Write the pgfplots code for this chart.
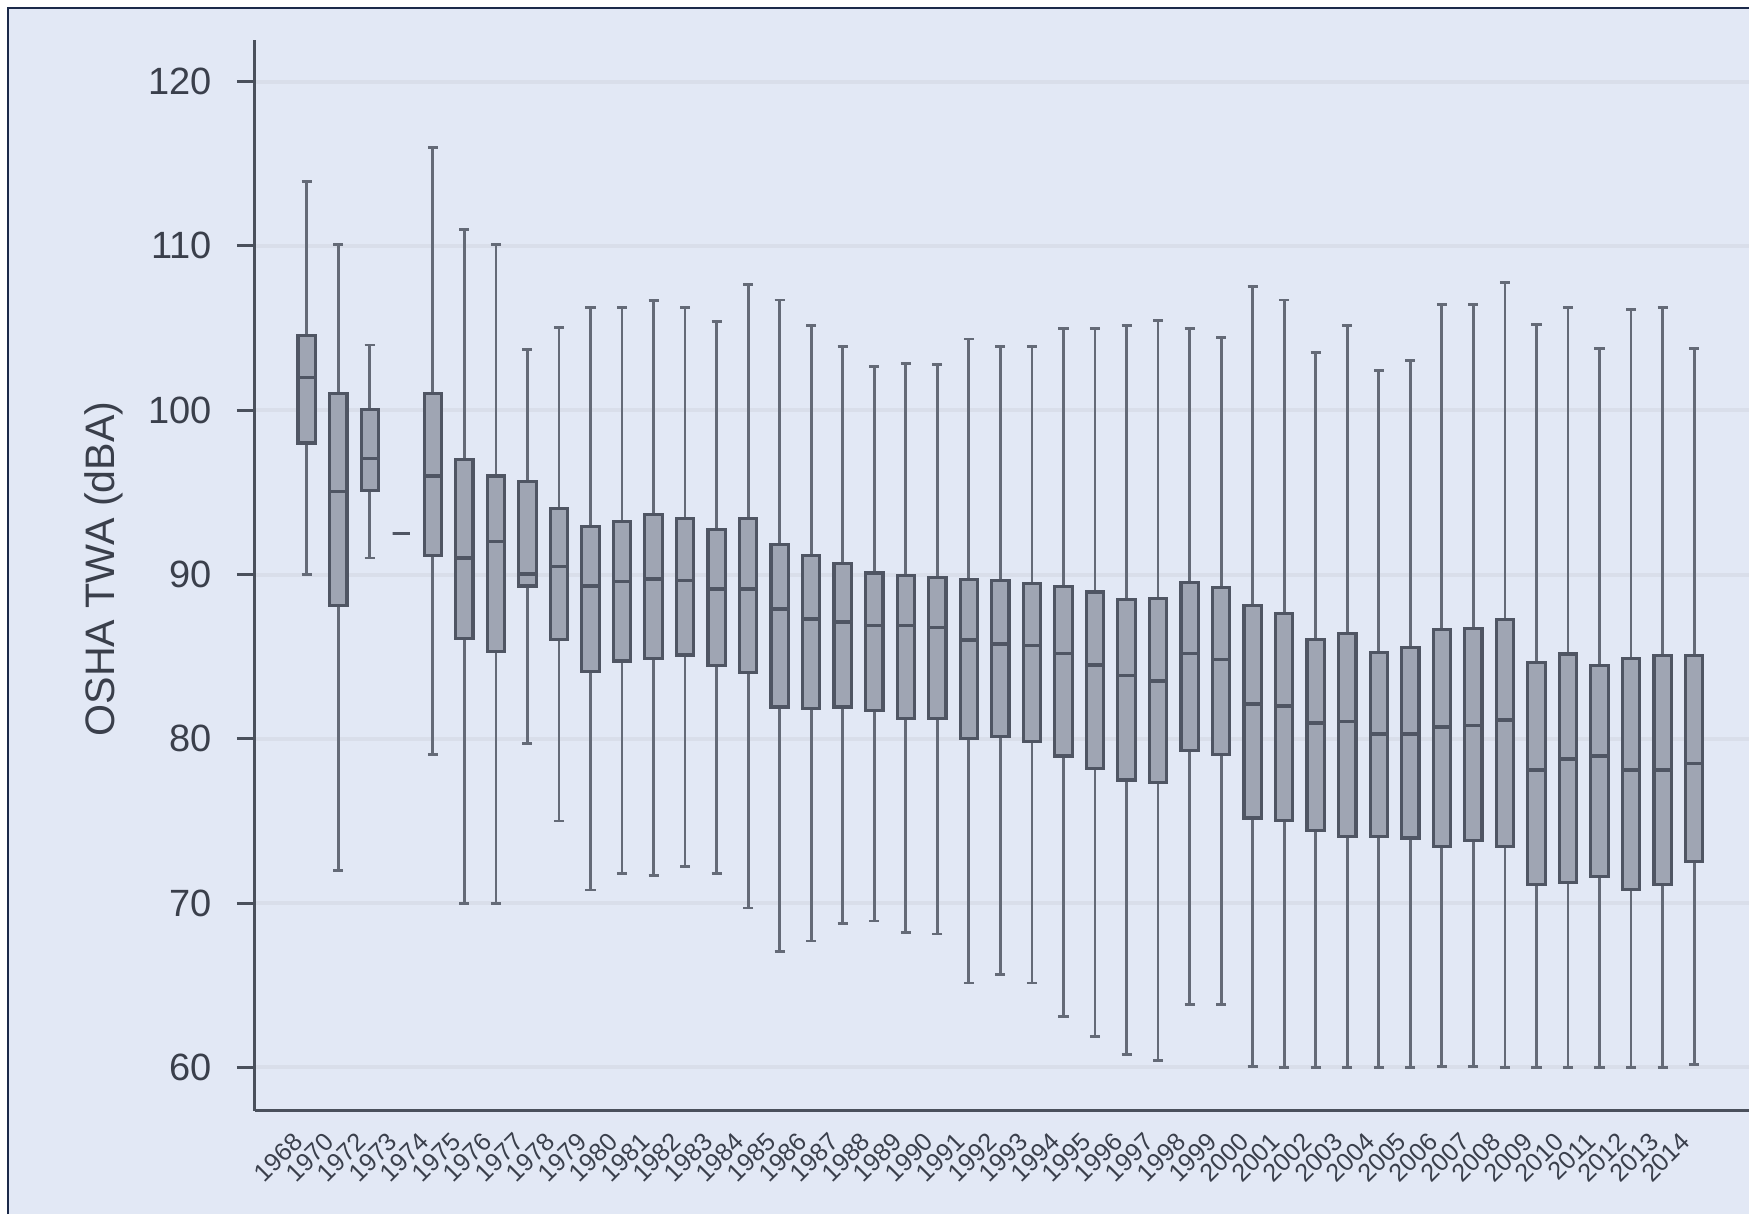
\documentclass[border=0pt]{standalone}
\usepackage{fontspec}
\setmainfont{Liberation Sans}
\usepackage{pgfplots}
\pgfplotsset{compat=1.18}
\usepgfplotslibrary{statistics}
\definecolor{bg}{HTML}{E2E8F5}
\definecolor{framec}{HTML}{1C2A4A}
\definecolor{boxfill}{HTML}{9FA5B3}
\definecolor{boxdraw}{HTML}{4F5563}
\definecolor{whisk}{HTML}{646A77}
\definecolor{axcol}{HTML}{4A505C}
\definecolor{txt}{HTML}{3A3F4B}
\definecolor{gridc}{HTML}{D9DEEA}
\newcommand{\bx}[6]{\addplot[fill=boxfill, draw=boxdraw, line width=0.8pt,
  boxplot prepared={draw position=#1, lower whisker=#2, lower quartile=#3,
  median=#4, upper quartile=#5, upper whisker=#6}] coordinates {};}
\begin{document}
\begin{tikzpicture}
\fill[white] (0pt,0pt) rectangle (437.25pt,303.5pt);
\fill[bg] (2pt,0pt) rectangle (437.25pt,301.5pt);
\draw[framec, line width=0.65pt] (2pt,0pt) -- (2pt,301.5pt) -- (437.25pt,301.5pt);
\node[rotate=90, font=\fontsize{10.3}{12}\selectfont, text=txt] at (26pt,161.25pt) {OSHA TWA (dBA)};
\begin{axis}[at={(63.75pt,25.825pt)}, anchor=south west, scale only axis,
  width=373.5pt, height=267.8pt,
  xmin=-1.64, xmax=45.74, ymin=57.37, ymax=122.56,
  axis x line*=bottom, axis y line*=left,
  axis line style={axcol, line width=0.75pt},
  ytick={60,70,...,120},
  xtick={0,...,44},
  xticklabels={1968,1970,1972,1973,1974,1975,1976,1977,1978,1979,1980,1981,1982,1983,1984,1985,1986,1987,1988,1989,1990,1991,1992,1993,1994,1995,1996,1997,1998,1999,2000,2001,2002,2003,2004,2005,2006,2007,2008,2009,2010,2011,2012,2013,2014},
  xtick style={draw=none},
  ytick style={axcol, line width=0.75pt},
  tick align=outside, major tick length=4.5pt,
  ymajorgrids, grid style={gridc, line width=1pt},
  /pgf/number format/assume math mode=true,
  yticklabel style={font=\fontsize{9.5}{10}\selectfont, text=txt, xshift=-2.75pt},
  xticklabel style={font=\fontsize{6.3}{7}\selectfont, text=txt, rotate=45, anchor=east, yshift=0pt, xshift=0.5pt},
  boxplot/draw direction=y,
  boxplot/box extend=0.55,
  boxplot/whisker extend=0.32,
  boxplot/every whisker/.style={draw=whisk, line width=0.7pt},
  boxplot/every median/.style={draw=boxdraw, line width=0.9pt},
  clip=false,
]
\bx{0}{90.0}{98.0}{102.0}{104.56}{113.9}
\bx{1}{72.0}{88.1}{95.05}{101.0}{110.1}
\bx{2}{91.0}{95.1}{97.05}{100.05}{103.97}
\bx{3}{92.5}{92.5}{92.5}{92.5}{92.5}
\bx{4}{79.05}{91.15}{96.0}{101.0}{116.0}
\bx{5}{70.0}{86.1}{91.0}{97.0}{111.0}
\bx{6}{70.0}{85.3}{92.0}{96.0}{110.1}
\bx{7}{79.7}{89.3}{90.05}{95.65}{103.7}
\bx{8}{75.0}{86.05}{90.5}{94.03}{105.03}
\bx{9}{70.8}{84.1}{89.3}{92.9}{106.26}
\bx{10}{71.8}{84.74}{89.57}{93.24}{106.26}
\bx{11}{71.7}{84.9}{89.74}{93.63}{106.7}
\bx{12}{72.25}{85.1}{89.64}{93.42}{106.26}
\bx{13}{71.8}{84.46}{89.11}{92.72}{105.38}
\bx{14}{69.7}{84.04}{89.11}{93.42}{107.65}
\bx{15}{67.07}{81.94}{87.89}{91.81}{106.71}
\bx{16}{67.7}{81.87}{87.29}{91.14}{105.14}
\bx{17}{68.75}{81.94}{87.12}{90.69}{103.88}
\bx{18}{68.92}{81.73}{86.91}{90.09}{102.65}
\bx{19}{68.22}{81.24}{86.91}{89.92}{102.86}
\bx{20}{68.12}{81.24}{86.77}{89.81}{102.76}
\bx{21}{65.14}{80.01}{86.03}{89.71}{104.33}
\bx{22}{65.67}{80.12}{85.79}{89.64}{103.88}
\bx{23}{65.14}{79.84}{85.68}{89.46}{103.88}
\bx{24}{63.11}{78.96}{85.19}{89.29}{104.96}
\bx{25}{61.89}{78.19}{84.49}{88.94}{104.96}
\bx{26}{60.77}{77.49}{83.86}{88.48}{105.14}
\bx{27}{60.42}{77.32}{83.52}{88.52}{105.45}
\bx{28}{63.81}{79.31}{85.19}{89.53}{104.96}
\bx{29}{63.81}{79.07}{84.84}{89.22}{104.44}
\bx{30}{60.07}{75.18}{82.11}{88.13}{107.55}
\bx{31}{60.0}{75.04}{82.0}{87.64}{106.71}
\bx{32}{60.0}{74.42}{80.96}{86.03}{103.53}
\bx{33}{60.0}{74.07}{81.06}{86.42}{105.14}
\bx{34}{60.0}{74.07}{80.29}{85.26}{102.41}
\bx{35}{60.0}{73.96}{80.29}{85.54}{103.04}
\bx{36}{60.07}{73.47}{80.71}{86.66}{106.43}
\bx{37}{60.07}{73.82}{80.82}{86.73}{106.43}
\bx{38}{60.0}{73.47}{81.13}{87.26}{107.76}
\bx{39}{60.0}{71.16}{78.09}{84.67}{105.21}
\bx{40}{60.0}{71.27}{78.79}{85.16}{106.26}
\bx{41}{60.0}{71.62}{78.96}{84.46}{103.74}
\bx{42}{60.0}{70.85}{78.09}{84.91}{106.15}
\bx{43}{60.0}{71.16}{78.09}{85.09}{106.26}
\bx{44}{60.17}{72.56}{78.51}{85.09}{103.74}
\end{axis}
\pgfresetboundingbox
\useasboundingbox (0pt,0pt) rectangle (437.25pt,303.5pt);
\end{tikzpicture}
\end{document}
